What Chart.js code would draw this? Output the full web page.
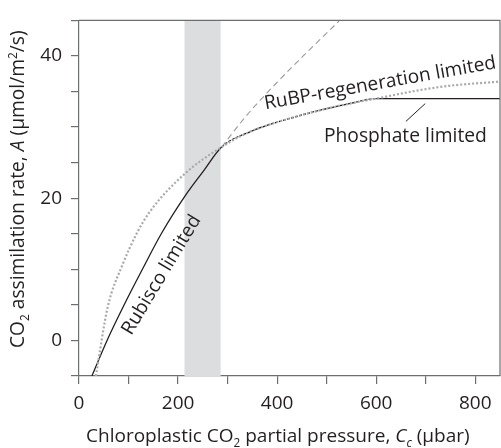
<!DOCTYPE html>
<html>
<head>
<meta charset="utf-8">
<script src="https://cdn.jsdelivr.net/npm/chart.js@4.4.1/dist/chart.umd.min.js"></script>
<style>
  html, body { margin: 0; padding: 0; background: #fff; }
</style>
</head>
<body>
<canvas id="chart" width="501" height="448"></canvas>
<script>
// Rubisco-limited rate (Wc)
const ccRubisco = [26, 58, 89, 128, 167, 217, 250, 288, 338, 400, 460, 525];
const aRubisco = [-5, 0.2, 4.7, 10.0, 15.1, 20.6, 23.7, 27.2, 31.6, 36.3, 40.5, 44.9];

// RuBP-regeneration-limited rate (Wj)
const ccRubp = [34, 58, 87, 117, 143, 213, 288, 344, 445, 546, 600, 680, 747, 850];
const aRubp = [-5, 4.7, 10.5, 15.1, 18.1, 23.4, 27.2, 29.3, 31.6, 33.3, 34.0, 35.1, 35.8, 36.4];

// Phosphate (TPU) limit
const ccPhosphate = [600, 850];
const aPhosphate = [34, 34];

// leader line under "Phosphate limited"
const ccLeader = [660, 699];
const aLeader = [30.8, 33.3];

// shaded range of Cc
const bandRange = [213, 286];

const xTicks = [0, 100, 200, 300, 400, 500, 600, 700, 800];

const kinkCc = 288;
const phosCc = 600;

const pts = (xs, ys) => xs.map((x, i) => ({ x: x, y: ys[i] }));

// limiting (minimum) rate: Rubisco -> RuBP -> phosphate
const limitPts = pts(ccRubisco, aRubisco).filter(p => p.x <= kinkCc)
  .concat(pts(ccRubp, aRubp).filter(p => p.x > kinkCc && p.x <= phosCc))
  .concat(pts(ccPhosphate, aPhosphate).filter(p => p.x > phosCc));

const FONT = '"Open Sans"';
const INK = '#231f20';
const AXIS = '#6d6e71';

function fontOf(p, size) {
  const s = (p.sub || p.sup) ? size * 0.62 : size;
  return (p.i ? 'italic ' : '') + s.toFixed(2) + 'px ' + FONT;
}
function richWidth(ctx, parts, size) {
  let w = 0;
  parts.forEach(p => { ctx.font = fontOf(p, size); w += ctx.measureText(p.t).width; });
  return w;
}
function drawRich(ctx, parts, x, y, size) {
  parts.forEach(p => {
    ctx.font = fontOf(p, size);
    const dy = p.sub ? size * 0.28 : p.sup ? -size * 0.38 : 0;
    ctx.fillText(p.t, x, y + dy);
    x += ctx.measureText(p.t).width;
  });
}

const xTitle = [
  { t: 'Chloroplastic CO' }, { t: '2', sub: true }, { t: ' partial pressure, ' },
  { t: 'C', i: true }, { t: 'c', i: true, sub: true }, { t: ' (µbar)' }
];
const yTitle = [
  { t: 'CO' }, { t: '2', sub: true }, { t: ' assimilation rate, ' },
  { t: 'A', i: true }, { t: ' (µmol/m' }, { t: '2', sup: true }, { t: '/s)' }
];

// curve labels: baseline centre in data units, angle in degrees, width in px
const notes = [
  { text: 'RuBP-regeneration limited', cc: 610, a: 35.4, angle: -10.1, width: 235 },
  { text: 'Phosphate limited', cc: 659, a: 27.9, angle: 0, width: 163 },
  { text: 'Rubisco limited', cc: 176, a: 8.8, angle: -59, width: 136 }
];

const decor = {
  id: 'decor',
  beforeDatasetsDraw(chart) {
    const { ctx, chartArea, scales } = chart;
    const x0 = scales.x.getPixelForValue(bandRange[0]);
    const x1 = scales.x.getPixelForValue(bandRange[1]);
    ctx.save();
    ctx.fillStyle = '#dcdddf';
    ctx.fillRect(x0, chartArea.top, x1 - x0, chartArea.bottom - chartArea.top);
    ctx.restore();
  },
  afterDraw(chart) {
    const { ctx, chartArea, scales } = chart;
    ctx.save();
    // frame top/right
    ctx.strokeStyle = AXIS;
    ctx.lineWidth = 1.2;
    ctx.beginPath();
    ctx.moveTo(chartArea.left, chartArea.top);
    ctx.lineTo(chartArea.right, chartArea.top);
    ctx.lineTo(chartArea.right, chartArea.bottom);
    ctx.stroke();

    ctx.fillStyle = INK;
    ctx.textBaseline = 'alphabetic';
    ctx.textAlign = 'left';

    notes.forEach(n => {
      ctx.font = '18px ' + FONT;
      const size = 18 * n.width / ctx.measureText(n.text).width;
      ctx.font = size.toFixed(2) + 'px ' + FONT;
      ctx.save();
      ctx.translate(scales.x.getPixelForValue(n.cc), scales.y.getPixelForValue(n.a));
      ctx.rotate(n.angle * Math.PI / 180);
      ctx.textAlign = 'center';
      ctx.fillText(n.text, 0, 0);
      ctx.restore();
    });

    // axis titles
    let size = 18 * 384 / richWidth(ctx, xTitle, 18);
    drawRich(ctx, xTitle, 86, 442, size);

    size = 18 * 318 / richWidth(ctx, yTitle, 18);
    ctx.translate(24, 348);
    ctx.rotate(-Math.PI / 2);
    drawRich(ctx, yTitle, 0, 0, size);
    ctx.restore();
  }
};

new Chart(document.getElementById('chart'), {
  type: 'line',
  data: {
    datasets: [
      {
        data: pts(ccRubp, aRubp),
        borderColor: '#a7a9ac',
        borderWidth: 2.2,
        borderDash: [2, 2],
        cubicInterpolationMode: 'monotone',
        pointRadius: 0
      },
      {
        data: pts(ccRubisco, aRubisco).filter(p => p.x >= kinkCc),
        borderColor: '#9a9a9c',
        borderWidth: 1.1,
        borderDash: [6, 4],
        cubicInterpolationMode: 'monotone',
        pointRadius: 0
      },
      {
        data: limitPts,
        borderColor: INK,
        borderWidth: 1.3,
        cubicInterpolationMode: 'monotone',
        pointRadius: 0,
        segment: {
          borderDash: c => (c.p0.parsed.x >= kinkCc && c.p1.parsed.x <= phosCc) ? [3, 1.2] : undefined
        }
      },
      {
        data: pts(ccLeader, aLeader),
        borderColor: INK,
        borderWidth: 1,
        pointRadius: 0
      }
    ]
  },
  options: {
    responsive: false,
    animation: false,
    devicePixelRatio: 1,
    layout: { padding: { top: 13, right: 1, left: 0, bottom: 0 } },
    plugins: { legend: { display: false }, tooltip: { enabled: false } },
    scales: {
      x: {
        type: 'linear',
        min: 0,
        max: 850,
        afterBuildTicks: s => { s.ticks = xTicks.map(v => ({ value: v })); },
        afterFit: s => { s.height = 72; },
        border: { color: AXIS, width: 1.2 },
        grid: { drawOnChartArea: false, drawTicks: true, tickLength: 8, color: AXIS, lineWidth: 1.2 },
        ticks: {
          autoSkip: false,
          maxRotation: 0,
          padding: 8,
          color: INK,
          font: { family: 'Open Sans', size: 19 },
          callback: v => (v % 200 === 0 ? v : '')
        }
      },
      y: {
        type: 'linear',
        min: -5,
        max: 45,
        afterFit: s => { s.width = 79; },
        border: { color: AXIS, width: 1.2 },
        grid: { drawOnChartArea: false, drawTicks: true, tickLength: 8, color: AXIS, lineWidth: 1.2 },
        ticks: {
          stepSize: 5,
          autoSkip: false,
          padding: 9,
          color: INK,
          font: { family: 'Open Sans', size: 19 },
          callback: v => (v % 20 === 0 ? v : '')
        }
      }
    }
  },
  plugins: [decor]
});
</script>
</body>
</html>
